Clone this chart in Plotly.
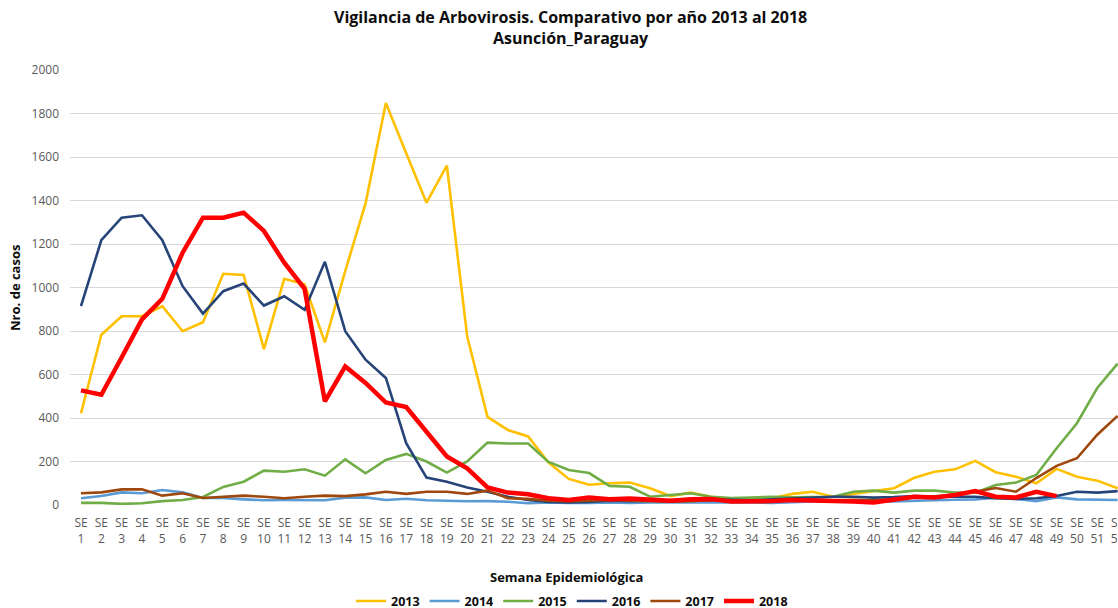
import plotly.graph_objects as go

weeks = list(range(1, 53))
tick_labels = [f"SE<br>{w}" for w in weeks]

s2013 = [422, 783, 868, 868, 914, 799, 840, 1063, 1058, 717,
         1040, 1015, 748, 1075, 1387, 1848, 1617, 1390, 1560, 776,
         405, 345, 315, 195, 120, 93, 100, 103, 77, 41,
         57, 38, 28, 31, 31, 51, 61, 38, 51, 61,
         77, 125, 153, 164, 203, 151, 130, 100, 166, 130,
         112, 77]
s2014 = [31, 41, 58, 54, 69, 58, 32, 32, 26, 22,
         23, 22, 22, 34, 35, 23, 29, 22, 18, 17,
         18, 15, 8, 12, 10, 9, 12, 10, 12, 12,
         14, 15, 14, 12, 10, 14, 16, 18, 16, 14,
         16, 20, 22, 24, 26, 34, 28, 18, 35, 26,
         23, 23]
s2015 = [10, 10, 5, 8, 18, 23, 37, 83, 107, 158,
         153, 164, 135, 210, 146, 207, 235, 200, 149, 200,
         287, 283, 283, 198, 161, 147, 88, 84, 38, 46,
         54, 38, 32, 34, 38, 35, 38, 38, 61, 66,
         57, 66, 66, 57, 57, 92, 103, 138, 261, 376,
         538, 650]
s2016 = [914, 1218, 1321, 1332, 1217, 1006, 880, 983, 1018, 917,
         960, 897, 1118, 799, 668, 584, 284, 126, 107, 80,
         61, 38, 23, 14, 12, 14, 20, 18, 20, 22,
         24, 26, 24, 22, 26, 30, 36, 38, 38, 34,
         36, 41, 38, 38, 38, 31, 28, 31, 41, 61,
         57, 64]
s2017 = [54, 58, 72, 72, 43, 54, 32, 38, 43, 38,
         31, 38, 43, 41, 49, 61, 51, 61, 61, 51,
         66, 31, 28, 20, 18, 20, 23, 20, 16, 15,
         18, 22, 18, 16, 18, 22, 24, 22, 24, 22,
         26, 36, 40, 48, 61, 78, 61, 124, 180, 215,
         323, 410]
s2018 = [527, 507, 678, 853, 948, 1160, 1321, 1321, 1344, 1260,
         1114, 994, 476, 637, 561, 471, 450, 338, 223, 169,
         81, 57, 49, 31, 23, 35, 26, 30, 23, 20,
         26, 28, 16, 16, 18, 23, 22, 20, 16, 12,
         23, 38, 34, 46, 64, 38, 35, 61, 41]

series = [
    ("2013", s2013, "#FFC000", 2.6),
    ("2014", s2014, "#5B9BD5", 2.6),
    ("2015", s2015, "#70AD47", 2.6),
    ("2016", s2016, "#264478", 2.6),
    ("2017", s2017, "#9E480E", 2.6),
    ("2018", s2018, "#FF0000", 4.5),
]

FONT = "Open Sans"
fig = go.Figure()
for name, vals, color, w in series:
    fig.add_trace(go.Scatter(
        x=weeks[:len(vals)], y=vals, name=name, mode="lines",
        line=dict(color=color, width=w),
    ))

fig.update_layout(
    width=1118, height=608,
    margin=dict(l=70, r=0, t=70, b=103, autoexpand=False),
    paper_bgcolor="white", plot_bgcolor="white",
    font=dict(family=FONT, size=12, color="#595959"),
    xaxis=dict(
        range=[0.459, 52.02], tickmode="array", tickvals=weeks, ticktext=tick_labels,
        showgrid=False, zeroline=False, showline=False, ticks="",
        tickfont=dict(size=12, color="#595959"), tickangle=0, automargin=False,
        ticklabelstandoff=9, ticklabeloverflow="allow",
    ),
    yaxis=dict(
        range=[0, 2000], dtick=200, showgrid=True, gridcolor="#D9D9D9", gridwidth=1,
        zeroline=False, showline=False, ticks="", ticklen=0, automargin=False,
        tickfont=dict(size=12, color="#595959"), ticklabelstandoff=10,
    ),
    legend=dict(
        orientation="h", x=0.479, xanchor="center", y=-0.187, yanchor="top",
        font=dict(family=FONT, size=12.5, color="#0d0d0d", weight="bold"),
        itemwidth=30, tracegroupgap=0,
    ),
    showlegend=True,
)

fig.add_annotation(
    text="<b>Vigilancia de Arbovirosis. Comparativo por año 2013 al 2018<br>Asunción_Paraguay</b>",
    xref="paper", yref="paper", x=0.478, y=(505 - 27) / 435,
    xanchor="center", yanchor="middle", showarrow=False,
    font=dict(family=FONT, size=16, color="#0d0d0d"),
)
fig.add_annotation(
    text="<b>Semana Epidemiológica</b>", xref="paper", yref="paper",
    x=0.474, y=-0.166, xanchor="center", yanchor="middle", showarrow=False,
    font=dict(family=FONT, size=13, color="#0d0d0d"),
)
fig.add_annotation(
    text="<b>Nro. de casos</b>", xref="paper", yref="paper",
    x=-0.053, y=0.5, xanchor="center", yanchor="middle", showarrow=False,
    textangle=-90, font=dict(family=FONT, size=13, color="#0d0d0d"),
)

fig.write_html(
    "out.html",
    config={"displayModeBar": False},
    post_script="document.body.style.margin='0';document.body.style.overflow='hidden';",
)
